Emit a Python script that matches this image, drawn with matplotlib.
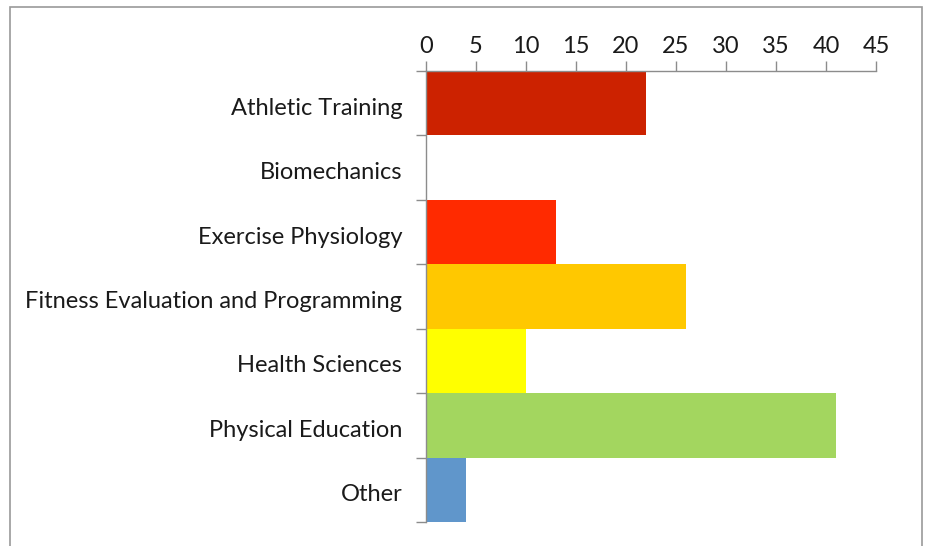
import matplotlib.pyplot as plt
import matplotlib.transforms as mtransforms
from matplotlib.patches import Rectangle
import numpy as np

# data
categories = ["Athletic Training", "Biomechanics", "Exercise Physiology",
              "Fitness Evaluation and Programming", "Health Sciences",
              "Physical Education", "Other"]
counts = [22, 0, 13, 26, 10, 41, 4]
colors = ["#CC2200", "#CC2200", "#FF2A00", "#FFC800", "#FFFF00", "#A3D65F", "#6096CB"]
xticks = [0, 5, 10, 15, 20, 25, 30, 35, 40, 45]

plt.rcParams['font.family'] = ['Lato', 'DejaVu Sans']
axis_grey = "#8C8C8C"
text_col = "#1A1A1A"

fig = plt.figure(figsize=(9.26, 5.46), dpi=100)
ax = fig.add_axes([0.460, 0.044, 0.486, 0.826])

# outer frame of the chart area
fig.patches.append(Rectangle((10 / 926, -0.05), 912 / 926, 1.05 - 7 / 546,
                             transform=fig.transFigure, fill=False,
                             edgecolor="#9A9A9A", linewidth=1.2))

y = np.arange(len(categories))
ax.barh(y, counts, height=1.0, color=colors, edgecolor="none")

ax.set_xlim(0, 45)
ax.set_ylim(len(categories) - 0.5, -0.5)
ax.set_xticks(xticks)
ax.xaxis.tick_top()
ax.set_yticks(y)
ax.set_yticklabels(categories)
ax.set_yticks(np.arange(len(categories) + 1) - 0.5, minor=True)

ax.tick_params(axis='y', which='major', length=0, pad=17, labelsize=17, labelcolor=text_col)
ax.tick_params(axis='y', which='minor', length=7, color=axis_grey, width=1)
ax.tick_params(axis='x', length=7, color=axis_grey, width=1, pad=3,
               labelsize=17, labelcolor=text_col)

# nudge category labels down a little, like the original
shift = mtransforms.ScaledTranslation(0, -3 / 100, fig.dpi_scale_trans)
for lab in ax.get_yticklabels():
    lab.set_va('center_baseline')
    lab.set_transform(lab.get_transform() + shift)

for side in ["right", "bottom"]:
    ax.spines[side].set_visible(False)
for side in ["left", "top"]:
    ax.spines[side].set_color(axis_grey)
    ax.spines[side].set_linewidth(1)

fig.savefig("out.png", dpi=100)
